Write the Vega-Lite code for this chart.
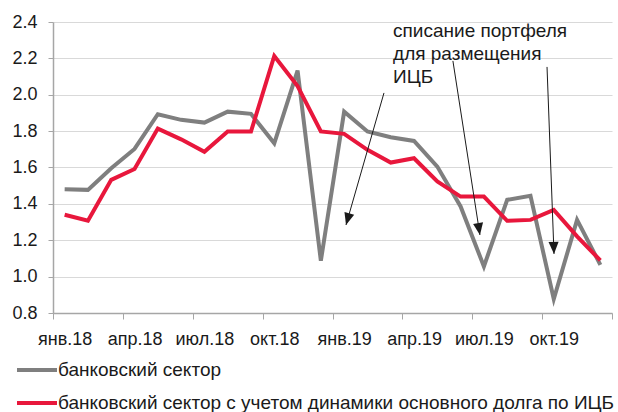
{
  "$schema": "https://vega.github.io/schema/vega-lite/v6.json",
  "width": 559,
  "height": 291,
  "autosize": "none",
  "padding": {"left": 53, "top": 22, "right": 6, "bottom": 99},
  "background": "white",
  "config": {
    "view": {"stroke": null},
    "font": "Liberation Sans",
    "axis": {"labelFont": "Liberation Sans", "labelColor": "#1a1a1a"}
  },
  "resolve": {"axis": {"x": "independent", "y": "independent"}},
  "datasets": {
    "series": [
      {"m": 0, "s": "банковский сектор", "v": 1.48},
      {"m": 1, "s": "банковский сектор", "v": 1.477},
      {"m": 2, "s": "банковский сектор", "v": 1.596},
      {"m": 3, "s": "банковский сектор", "v": 1.702},
      {"m": 4, "s": "банковский сектор", "v": 1.893},
      {"m": 5, "s": "банковский сектор", "v": 1.862},
      {"m": 6, "s": "банковский сектор", "v": 1.847},
      {"m": 7, "s": "банковский сектор", "v": 1.907},
      {"m": 8, "s": "банковский сектор", "v": 1.895},
      {"m": 9, "s": "банковский сектор", "v": 1.733},
      {"m": 10, "s": "банковский сектор", "v": 2.133},
      {"m": 11, "s": "банковский сектор", "v": 1.087},
      {"m": 12, "s": "банковский сектор", "v": 1.907},
      {"m": 13, "s": "банковский сектор", "v": 1.798},
      {"m": 14, "s": "банковский сектор", "v": 1.766},
      {"m": 15, "s": "банковский сектор", "v": 1.746},
      {"m": 16, "s": "банковский сектор", "v": 1.605},
      {"m": 17, "s": "банковский сектор", "v": 1.386},
      {"m": 18, "s": "банковский сектор", "v": 1.056},
      {"m": 19, "s": "банковский сектор", "v": 1.422},
      {"m": 20, "s": "банковский сектор", "v": 1.444},
      {"m": 21, "s": "банковский сектор", "v": 0.877},
      {"m": 22, "s": "банковский сектор", "v": 1.312},
      {"m": 23, "s": "банковский сектор", "v": 1.065},
      {"m": 0, "s": "банковский сектор с учетом динамики основного долга по ИЦБ", "v": 1.34},
      {"m": 1, "s": "банковский сектор с учетом динамики основного долга по ИЦБ", "v": 1.307},
      {"m": 2, "s": "банковский сектор с учетом динамики основного долга по ИЦБ", "v": 1.532},
      {"m": 3, "s": "банковский сектор с учетом динамики основного долга по ИЦБ", "v": 1.592},
      {"m": 4, "s": "банковский сектор с учетом динамики основного долга по ИЦБ", "v": 1.814},
      {"m": 5, "s": "банковский сектор с учетом динамики основного долга по ИЦБ", "v": 1.755},
      {"m": 6, "s": "банковский сектор с учетом динамики основного долга по ИЦБ", "v": 1.686},
      {"m": 7, "s": "банковский сектор с учетом динамики основного долга по ИЦБ", "v": 1.798},
      {"m": 8, "s": "банковский сектор с учетом динамики основного долга по ИЦБ", "v": 1.798},
      {"m": 9, "s": "банковский сектор с учетом динамики основного долга по ИЦБ", "v": 2.213},
      {"m": 10, "s": "банковский сектор с учетом динамики основного долга по ИЦБ", "v": 2.048},
      {"m": 11, "s": "банковский сектор с учетом динамики основного долга по ИЦБ", "v": 1.798},
      {"m": 12, "s": "банковский сектор с учетом динамики основного долга по ИЦБ", "v": 1.785},
      {"m": 13, "s": "банковский сектор с учетом динамики основного долга по ИЦБ", "v": 1.697},
      {"m": 14, "s": "банковский сектор с учетом динамики основного долга по ИЦБ", "v": 1.627},
      {"m": 15, "s": "банковский сектор с учетом динамики основного долга по ИЦБ", "v": 1.651},
      {"m": 16, "s": "банковский сектор с учетом динамики основного долга по ИЦБ", "v": 1.523},
      {"m": 17, "s": "банковский сектор с учетом динамики основного долга по ИЦБ", "v": 1.44},
      {"m": 18, "s": "банковский сектор с учетом динамики основного долга по ИЦБ", "v": 1.44},
      {"m": 19, "s": "банковский сектор с учетом динамики основного долга по ИЦБ", "v": 1.307},
      {"m": 20, "s": "банковский сектор с учетом динамики основного долга по ИЦБ", "v": 1.312},
      {"m": 21, "s": "банковский сектор с учетом динамики основного долга по ИЦБ", "v": 1.367},
      {"m": 22, "s": "банковский сектор с учетом динамики основного долга по ИЦБ", "v": 1.221},
      {"m": 23, "s": "банковский сектор с учетом динамики основного долга по ИЦБ", "v": 1.089}
    ],
    "arrows": [
      {"id": 1, "x": 13.71, "y": 2.01, "x2": 12.08, "y2": 1.284},
      {"id": 2, "x": 16.67, "y": 2.186, "x2": 17.83, "y2": 1.229},
      {"id": 3, "x": 20.71, "y": 2.153, "x2": 21.01, "y2": 1.125}
    ],
    "note": [
      {"x": 14.1, "y": 2.318, "t": "списание портфеля\nдля размещения\nИЦБ"}
    ]
  },
  "layer": [
    {
      "data": {"name": "series"},
      "mark": {"type": "line", "strokeWidth": 4, "strokeJoin": "miter"},
      "encoding": {
        "x": {
          "field": "m", "type": "quantitative",
          "scale": {"domain": [-0.5, 23.5], "nice": false, "zero": false},
          "axis": {
            "title": null,
            "values": [-0.5, 2.5, 5.5, 8.5, 11.5, 14.5, 17.5, 20.5, 23.5],
            "labelExpr": "['янв.18','апр.18','июл.18','окт.18','янв.19','апр.19','июл.19','окт.19',''][round((datum.value+0.5)/3)]",
            "labelOffset": 11.65,
            "labelFontSize": 18,
            "labelPadding": 11,
            "labelOverlap": false,
            "labelBound": false,
            "labelFlush": false,
            "tickSize": 6,
            "tickColor": "#a6a6a6",
            "domainColor": "#a6a6a6",
            "domainWidth": 1.5,
            "grid": false
          }
        },
        "y": {
          "field": "v", "type": "quantitative",
          "scale": {"domain": [0.8, 2.4], "nice": false, "zero": false},
          "axis": {
            "title": null,
            "values": [0.8, 1, 1.2, 1.4, 1.6, 1.8, 2, 2.2, 2.4],
            "labelExpr": "format(datum.value, '.1f')",
            "labelFontSize": 18,
            "labelPadding": 11,
            "labelOverlap": false,
            "labelFlush": false,
            "labelBound": false,
            "tickSize": 5,
            "tickColor": "#a6a6a6",
            "domainColor": "#a6a6a6",
            "domainWidth": 1.5,
            "grid": true,
            "gridColor": "#d9d9d9",
            "gridWidth": 1
          }
        },
        "color": {
          "field": "s", "type": "nominal",
          "scale": {
            "domain": ["банковский сектор", "банковский сектор с учетом динамики основного долга по ИЦБ"],
            "range": ["#7f7f7f", "#e8173c"]
          },
          "legend": {
            "title": null,
            "orient": "none",
            "legendX": -28,
            "legendY": 336,
            "direction": "vertical",
            "symbolType": "M-2,0H2",
            "symbolSize": 400,
            "symbolStrokeWidth": 4,
            "labelFontSize": 19,
            "labelFont": "Liberation Sans",
            "labelColor": "#1a1a1a",
            "labelOffset": 9,
            "labelLimit": 0,
            "rowPadding": 11
          }
        }
      }
    },
    {
      "data": {"name": "arrows"},
      "mark": {"type": "rule", "color": "#1a1a1a", "strokeWidth": 1},
      "encoding": {
        "x": {"field": "x", "type": "quantitative", "axis": null},
        "y": {"field": "y", "type": "quantitative", "axis": null},
        "x2": {"field": "x2"},
        "y2": {"field": "y2"}
      }
    },
    {
      "data": {"name": "arrows"},
      "transform": [{"filter": "datum.id == 1"}],
      "mark": {"type": "point", "shape": "M0,0L-0.42,-1L0.42,-1Z", "filled": true, "color": "#1a1a1a", "opacity": 1, "size": 576, "angle": 16},
      "encoding": {
        "x": {"field": "x2", "type": "quantitative", "axis": null},
        "y": {"field": "y2", "type": "quantitative", "axis": null}
      }
    },
    {
      "data": {"name": "arrows"},
      "transform": [{"filter": "datum.id == 2"}],
      "mark": {"type": "point", "shape": "M0,0L-0.42,-1L0.42,-1Z", "filled": true, "color": "#1a1a1a", "opacity": 1, "size": 576, "angle": -8.8},
      "encoding": {
        "x": {"field": "x2", "type": "quantitative", "axis": null},
        "y": {"field": "y2", "type": "quantitative", "axis": null}
      }
    },
    {
      "data": {"name": "arrows"},
      "transform": [{"filter": "datum.id == 3"}],
      "mark": {"type": "point", "shape": "M0,0L-0.42,-1L0.42,-1Z", "filled": true, "color": "#1a1a1a", "opacity": 1, "size": 576, "angle": -2.1},
      "encoding": {
        "x": {"field": "x2", "type": "quantitative", "axis": null},
        "y": {"field": "y2", "type": "quantitative", "axis": null}
      }
    },
    {
      "data": {"name": "note"},
      "mark": {"type": "text", "align": "left", "baseline": "alphabetic", "fontSize": 19, "lineHeight": 23, "lineBreak": "\n", "color": "#1a1a1a", "font": "Liberation Sans"},
      "encoding": {
        "x": {"field": "x", "type": "quantitative", "axis": null},
        "y": {"field": "y", "type": "quantitative", "axis": null},
        "text": {"field": "t"}
      }
    }
  ]
}
